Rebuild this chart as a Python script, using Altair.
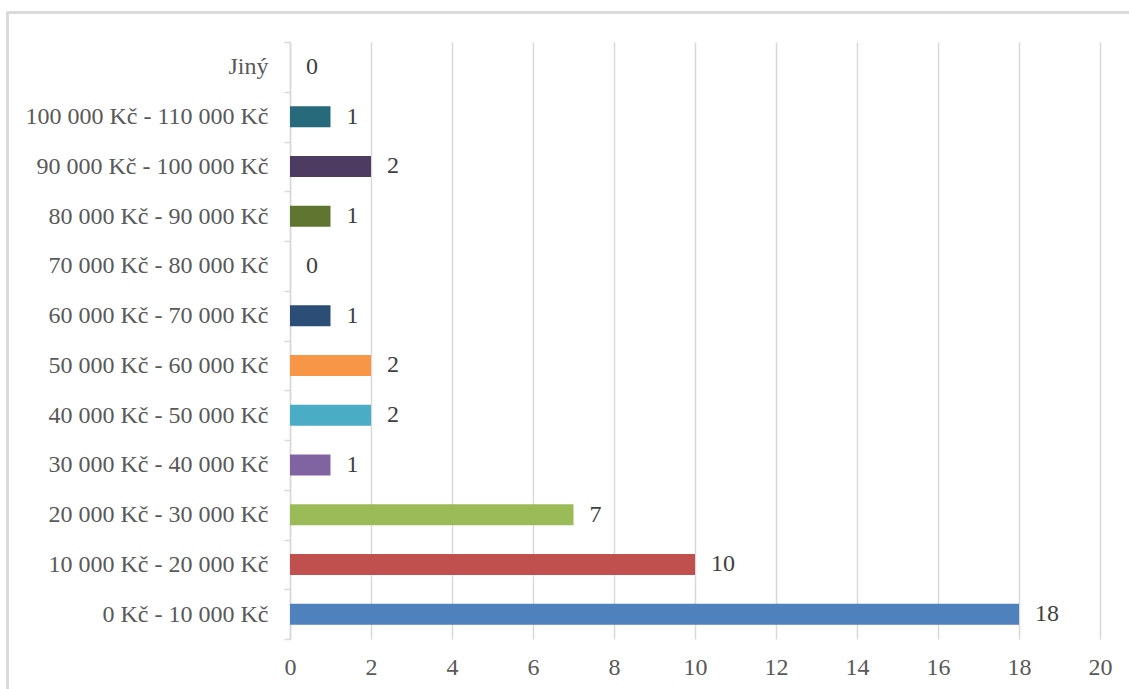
import altair as alt
import pandas as pd

# Income bands, listed bottom to top as they appear on the axis
categories = [
    "0 Kč - 10 000 Kč",
    "10 000 Kč - 20 000 Kč",
    "20 000 Kč - 30 000 Kč",
    "30 000 Kč - 40 000 Kč",
    "40 000 Kč - 50 000 Kč",
    "50 000 Kč - 60 000 Kč",
    "60 000 Kč - 70 000 Kč",
    "70 000 Kč - 80 000 Kč",
    "80 000 Kč - 90 000 Kč",
    "90 000 Kč - 100 000 Kč",
    "100 000 Kč - 110 000 Kč",
    "Jiný",
]
counts = [18, 10, 7, 1, 2, 2, 1, 0, 1, 2, 1, 0]
colors = [
    "#4F81BD", "#C0504D", "#9BBB59", "#8064A2", "#4BACC6", "#F79646",
    "#2C4D75", "#772C2A", "#5F7530", "#4D3B62", "#276A7C", "#B65708",
]
x_ticks = list(range(0, 21, 2))

df = pd.DataFrame({"kategorie": categories, "pocet": counts, "barva": colors})

FONT = "Liberation Serif"
GRID = "#d9d9d9"
FS = 24
order_top_down = list(reversed(categories))

y_enc = alt.Y(
    "kategorie:N",
    sort=order_top_down,
    scale=alt.Scale(paddingInner=0, paddingOuter=0),
    axis=alt.Axis(
        title=None,
        domainColor=GRID,
        domainWidth=1.5,
        tickColor=GRID,
        tickWidth=1.5,
        tickSize=6,
        tickBand="extent",
        labelFont=FONT,
        labelFontSize=FS,
        labelColor="#595959",
        labelPadding=16,
        labelLimit=0,
        grid=False,
    ),
)

x_enc = alt.X(
    "pocet:Q",
    scale=alt.Scale(domain=[0, 20], nice=False),
    axis=alt.Axis(
        title=None,
        values=x_ticks,
        domain=False,
        ticks=False,
        grid=True,
        gridColor=GRID,
        gridWidth=1.5,
        labelFont=FONT,
        labelFontSize=FS,
        labelColor="#595959",
        labelPadding=16,
        labelFlush=False,
    ),
)

bars = alt.Chart(df).mark_bar(size=21).encode(
    x=x_enc,
    y=y_enc,
    color=alt.Color("barva:N", scale=None, legend=None),
)

labels = alt.Chart(df).mark_text(
    align="left", baseline="middle", dx=16, font=FONT, fontSize=FS, color="#404040"
).encode(
    x=alt.X("pocet:Q"),
    y=alt.Y("kategorie:N", sort=order_top_down),
    text=alt.Text("pocet:Q"),
)

# Outer chart-area frame (left and top edges)
frame_left = alt.Chart(df).mark_rule(color=GRID, strokeWidth=1.5).encode(
    x=alt.value(-282.5), y=alt.value(-29.5), y2=alt.value(700)
)
frame_top = alt.Chart(df).mark_rule(color=GRID, strokeWidth=1.5).encode(
    x=alt.value(-282.5), x2=alt.value(900), y=alt.value(-29.5)
)

chart = (
    alt.layer(frame_left, frame_top, bars, labels)
    .properties(
        width=810,
        height=597,
        autosize=alt.AutoSizeParams(type="none"),
        padding={"left": 290, "top": 42, "right": 29, "bottom": 50},
        background="white",
    )
    .configure_view(stroke=None)
)

chart.save("out.html", embed_options={"renderer": "svg", "actions": False})
